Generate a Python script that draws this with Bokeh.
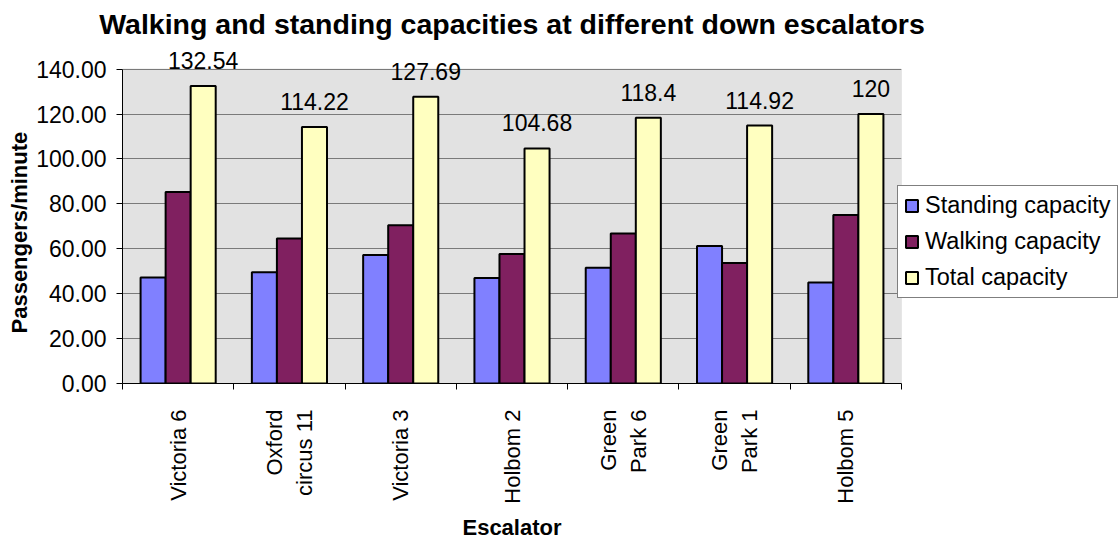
from bokeh.plotting import figure
from bokeh.models import (Range1d, FixedTicker, NumeralTickFormatter, LabelSet, Title,
                          ColumnDataSource, Legend, LegendItem, SingleIntervalTicker, BoxAnnotation)
from bokeh.core.properties import value
from bokeh.transform import dodge
from bokeh.embed import file_html
from bokeh.resources import INLINE
import math

escalators = ["Victoria 6", "Oxford\ncircus 11", "Victoria 3", "Holbom 2",
              "Green\nPark 6", "Green\nPark 1", "Holbom 5"]
standing = [47.2, 49.6, 57.2, 47.0, 51.6, 61.2, 45.0]
walking = [85.34, 64.62, 70.49, 57.68, 66.8, 53.72, 75.0]
total = [132.54, 114.22, 127.69, 104.68, 118.4, 114.92, 120]
series_names = ["Standing capacity", "Walking capacity", "Total capacity"]
colors = ["#8080FF", "#802060", "#FFFFC0"]
y_ticks_step = 20
y_max = 140
y_headroom = 151  # room above the plot area for the value labels

FONT = "Liberation Sans"

n = len(escalators)
xs = list(range(n))
bar_w = 0.225

src = ColumnDataSource(dict(
    x=xs,
    standing=standing,
    walking=walking,
    total=total,
    label=[f"{v:g}" for v in total],
))

p = figure(frame_width=779, frame_height=339, output_backend="svg", toolbar_location=None,
           x_range=Range1d(-0.5, n - 0.5), y_range=Range1d(0, y_headroom),
           min_border_left=122, min_border_right=215, min_border_top=44,
           min_border_bottom=150)

p.background_fill_color = "white"
p.border_fill_color = "white"
p.outline_line_color = None

plot_area = BoxAnnotation(bottom=0, top=y_max, fill_color="#E2E2E2", fill_alpha=1,
                          line_color="#808080", line_width=1, level="image")
p.add_layout(plot_area)

renderers = []
for key, dx, c in zip(["standing", "walking", "total"], [-bar_w, 0, bar_w], colors):
    r = p.vbar(x=dodge("x", dx), top=key, width=bar_w, source=src,
               fill_color=c, line_color="black", line_width=2)
    renderers.append(r)

labels = LabelSet(x=dodge("x", bar_w), y="total", text="label", source=src,
                  text_align="center", text_baseline="alphabetic", y_offset=17,
                  text_font=value(FONT), text_font_size="23px", text_color="black")
p.add_layout(labels)

# Title
p.title.text = "Walking and standing capacities at different down escalators"
p.title.text_font = FONT
p.title.text_font_size = "28.5px"
p.title.text_font_style = "bold"
p.title.align = "center"
p.title.text_color = "black"
p.title.standoff = 9

# Y axis
yax = p.yaxis[0]
yax.ticker = SingleIntervalTicker(interval=y_ticks_step, num_minor_ticks=0)
yax.formatter = NumeralTickFormatter(format="0.00")
yax.bounds = (0, y_max)
yax.major_label_text_font = FONT
yax.major_label_text_font_size = "23px"
yax.major_label_text_color = "black"
yax.major_tick_out = 6
yax.major_tick_in = 0
yax.minor_tick_line_color = None
yax.axis_line_color = "black"
yax.major_tick_line_color = "black"
yax.major_label_standoff = 10

ytitle = Title(text="Passengers/minute", align="left", offset=50,
               text_font=FONT, text_font_size="22px", text_font_style="bold",
               text_color="black", standoff=3)
p.add_layout(ytitle, "left")

# X axis
xax = p.xaxis[0]
xax.ticker = FixedTicker(ticks=xs, minor_ticks=[i - 0.5 for i in range(n + 1)])
xax.major_label_overrides = {i: name for i, name in zip(xs, escalators)}
xax.major_label_orientation = math.pi / 2
xax.major_label_text_font = FONT
xax.major_label_text_font_size = "22px"
xax.major_label_text_color = "black"
xax.major_label_text_line_height = 1.22
xax.major_tick_line_color = None
xax.major_tick_out = 6
xax.major_tick_in = 0
xax.minor_tick_line_color = "black"
xax.minor_tick_out = 6
xax.minor_tick_in = 0
xax.axis_line_color = "black"
xax.major_label_standoff = 20
xax.axis_label = "Escalator"
xax.axis_label_text_font = FONT
xax.axis_label_text_font_size = "22px"
xax.axis_label_text_font_style = "bold"
xax.axis_label_text_color = "black"
xax.axis_label_standoff = 8

p.xgrid.grid_line_color = None
p.ygrid.grid_line_color = "#7A7A7A"
p.ygrid.grid_line_width = 1

legend = Legend(items=[LegendItem(label=nm, renderers=[r]) for nm, r in zip(series_names, renderers)],
                location=(-4, 85))
legend.label_text_font = FONT
legend.label_text_font_size = "23.5px"
legend.label_text_color = "black"
legend.glyph_width = 15
legend.glyph_height = 15
legend.label_height = 23
legend.spacing = 9
legend.padding = 6
legend.margin = 0
legend.label_standoff = 6
legend.border_line_color = "black"
legend.border_line_width = 1
legend.background_fill_color = "white"
legend.background_fill_alpha = 1
p.add_layout(legend, "right")

open("out.html", "w").write(file_html(p, INLINE))
